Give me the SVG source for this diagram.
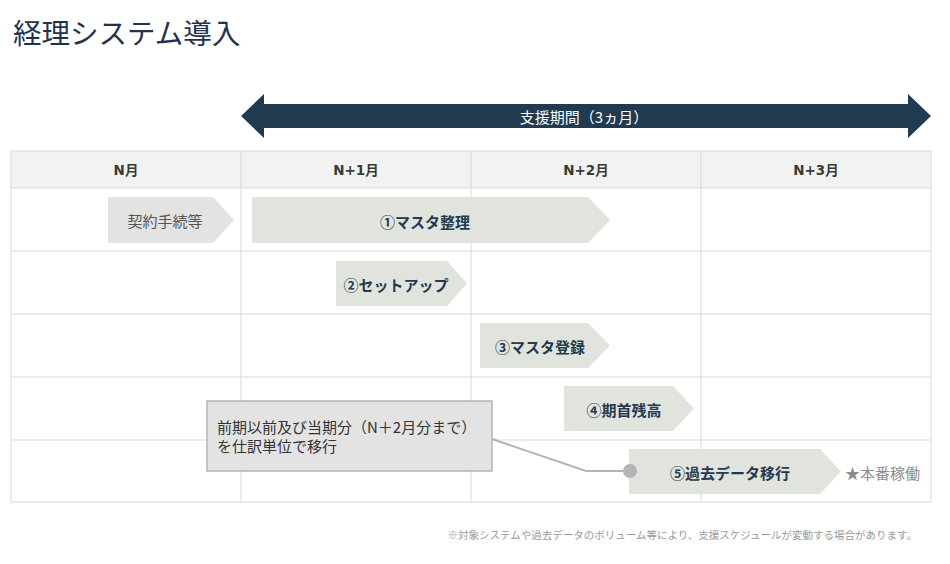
<svg xmlns="http://www.w3.org/2000/svg" width="950" height="564" viewBox="0 0 950 564">
<style>
.jp{font-family:"Noto Sans CJK JP","Liberation Sans",sans-serif;}
.grid{stroke:#d9d9d9;stroke-width:1;fill:none;}
.hdr{font-family:"DejaVu Sans","Noto Sans CJK JP",sans-serif;font-size:13.5px;font-weight:bold;fill:#3a3a30;text-anchor:middle;dominant-baseline:central;}
.chev{fill:#e1e4dd;}
.chevg{fill:#e3e3e3;}
.lbl{font-family:"Noto Sans CJK JP","Liberation Sans",sans-serif;font-size:15px;font-weight:bold;fill:#243a4f;text-anchor:middle;dominant-baseline:central;}
</style>
<rect width="950" height="564" fill="#ffffff"/>
<text x="13" y="44" class="jp" font-size="28.5" fill="#1f3350">経理システム導入</text>

<g id="period-arrow">
<polygon points="241,116 264,94 264,104 908,104 908,94 931,116 908,138 908,128 264,128 264,138" fill="#203a4f"/>
<text x="584" y="116" class="jp" font-size="15" fill="#ffffff" text-anchor="middle" dominant-baseline="central">支援期間（3ヵ月）</text>
</g>

<g id="table">
<rect x="11" y="151" width="920" height="37" fill="#f2f2f2"/>
<rect x="11" y="151" width="920" height="351" class="grid"/>
<line x1="11" y1="188" x2="931" y2="188" class="grid"/>
<line x1="11" y1="251" x2="931" y2="251" class="grid"/>
<line x1="11" y1="314" x2="931" y2="314" class="grid"/>
<line x1="11" y1="377" x2="931" y2="377" class="grid"/>
<line x1="11" y1="440" x2="931" y2="440" class="grid"/>
<line x1="241" y1="151" x2="241" y2="502" class="grid"/>
<line x1="471" y1="151" x2="471" y2="502" class="grid"/>
<line x1="701" y1="151" x2="701" y2="502" class="grid"/>
<text x="126" y="170" class="hdr">N月</text>
<text x="356" y="170" class="hdr">N+1月</text>
<text x="586" y="170" class="hdr">N+2月</text>
<text x="816" y="170" class="hdr">N+3月</text>
</g>

<g id="contract">
<polygon points="108,197 213,197 234,220 213,243 108,243" class="chevg"/>
<text x="165" y="220" class="jp" font-size="15" fill="#555555" text-anchor="middle" dominant-baseline="central">契約手続等</text>
</g>
<g id="step1">
<polygon points="252,197 588,197 610,220 588,243 252,243" class="chev"/>
<text x="425" y="221" class="lbl">①マスタ整理</text>
</g>
<g id="step2">
<polygon points="336,261 447,261 467,283.5 447,306 336,306" class="chev"/>
<text x="396" y="284" class="lbl">②セットアップ</text>
</g>
<g id="step3">
<polygon points="480,323 588,323 610,345.5 588,368 480,368" class="chev"/>
<text x="540" y="346" class="lbl">③マスタ登録</text>
</g>
<g id="step4">
<polygon points="564,386 673,386 694,408.5 673,431 564,431" class="chev"/>
<text x="624" y="409" class="lbl">④期首残高</text>
</g>
<g id="step5">
<polygon points="629,449 820,449 841,471.5 820,494 629,494" class="chev"/>
<text x="730" y="472" class="lbl">⑤過去データ移行</text>
</g>
<text x="845" y="472" class="jp" font-size="15" fill="#8c8c8c" dominant-baseline="central">★本番稼働</text>

<g id="connectors">
<polyline points="492,439 586,471 630,471" fill="none" stroke="#b4b4b4" stroke-width="2"/>
<circle cx="630" cy="471" r="7" fill="#b4b4b4"/>
</g>

<g id="callout">
<rect x="207" y="401" width="285" height="70" fill="#e3e3e3" stroke="#b4b4b4" stroke-width="1.5"/>
<text x="217" y="433" class="jp" font-size="15" fill="#333333">前期以前及び当期分（N＋2月分まで）</text>
<text x="217" y="452" class="jp" font-size="15" fill="#333333">を仕訳単位で移行</text>
</g>

<text x="917" y="539" class="jp" font-size="10.5" fill="#9a9a9a" text-anchor="end">※対象システムや過去データのボリューム等により、支援スケジュールが変動する場合があります。</text>
</svg>
